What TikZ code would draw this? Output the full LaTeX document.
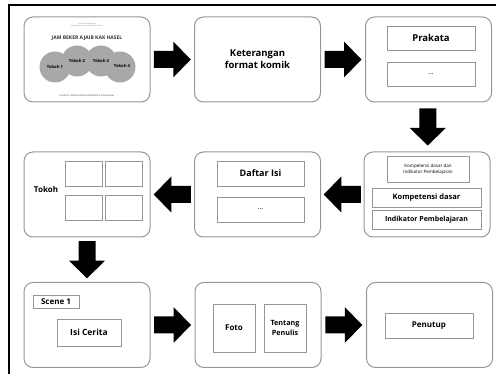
\documentclass[tikz,border=0pt]{standalone}
\usepackage{fontspec}
\setmainfont{Open Sans}
\usetikzlibrary{calc}
\definecolor{boxgray}{RGB}{150,150,150}
\definecolor{tokohgray}{RGB}{168,168,168}
\tikzset{
  pagebox/.style={draw=boxgray, line width=1pt, rounded corners=9pt,
    minimum width=126pt, minimum height=85pt, inner sep=0pt, align=center},
  innerbox/.style={draw=boxgray, line width=0.8pt, inner sep=0pt, align=center},
  tokohcircle/.style={circle, fill=tokohgray, minimum size=31pt, inner sep=0pt},
  blockarrow/.pic={
    \fill[black] (-18.5,-8.5) -- (1,-8.5) -- (1,-18) -- (18.5,0)
      -- (1,18) -- (1,8.5) -- (-18.5,8.5) -- cycle;
  }
}

\begin{document}
\begin{tikzpicture}[x=1pt, y=-1pt, font=\bfseries]
  \useasboundingbox (0,0) rectangle (496,374);

  % Outer frame
  \draw[line width=1.3pt] (9,374) -- (9,5) -- (496,5);

  % === ROW 1 ===
  % Cover
  \node[pagebox] (cover) at (87,59.5) {};
  \node[tokohcircle] (t1) at (55,67) {};
  \node[tokohcircle] (t2) at (77,61) {};
  \node[tokohcircle] (t3) at (101,61) {};
  \node[tokohcircle] (t4) at (120,67) {};
  \node[font=\fontsize{4.2}{5}\bfseries] at (t1) {Tokoh 1};
  \node[font=\fontsize{4.2}{5}\bfseries] at (t2) {Tokoh 2};
  \node[font=\fontsize{4.2}{5}\bfseries] at (t3) {Tokoh 3};
  \node[font=\fontsize{4.2}{5}\bfseries] at (122,66) {Tokoh 4};
  \node[font=\fontsize{1.8}{2.2}\selectfont, text=gray, align=center] (sub) at (87,25)
    {Komik Pembelajaran\\Matematika Kelas Lima Sekolah Dasar};
  \node[font=\fontsize{5}{6}\bfseries, text=black!80] (title) at (87,38)
    {JAM BEKER AJAIB KAK HASEL};
  \node[font=\fontsize{2.2}{3}\bfseries, text=gray] (foot) at (87,96)
    {KOLEKSI : KOMIK DIGITAL INTERAKTIF POLA HASEL};

  % Keterangan
  \node[pagebox, font=\fontsize{9.5}{12}\bfseries] (ket) at (257.5,59.5)
    {Keterangan\\format komik};

  % Prakata
  \node[pagebox] (prak) at (428.5,59.5) {};
  \node[innerbox, minimum width=88pt, minimum height=24pt,
    font=\fontsize{9.5}{11}\bfseries] (prakata) at (431,38) {Prakata};
  \node[innerbox, minimum width=88pt, minimum height=24pt,
    font=\fontsize{7}{8}\selectfont] (prakdots) at (431,74) {...};

  \pic at ($(cover.east)!0.5!(ket.west)$) {blockarrow};
  \pic at ($(ket.east)!0.5!(prak.west)$) {blockarrow};

  % === ROW 2 ===
  % Kompetensi
  \node[pagebox] (komp) at (427,194.5) {};
  \node[innerbox, minimum width=82pt, minimum height=26pt,
    font=\fontsize{4.5}{6}\selectfont] (kdid) at (428,169)
    {Kompetensi dasar dan\\Indikator Pembelajaran};
  \node[innerbox, minimum width=109pt, minimum height=19pt,
    font=\fontsize{7.5}{9}\bfseries] (kd) at (426.5,197.5) {Kompetensi dasar};
  \node[innerbox, minimum width=109pt, minimum height=19pt,
    font=\fontsize{7}{9}\bfseries] (ind) at (426.5,219.5) {Indikator Pembelajaran};

  % Daftar Isi
  \node[pagebox] (daftar) at (257.5,194.5) {};
  \node[innerbox, minimum width=87pt, minimum height=25pt,
    font=\fontsize{9}{11}\bfseries] (daftarisi) at (260.5,173.5) {Daftar Isi};
  \node[innerbox, minimum width=87pt, minimum height=25pt,
    font=\fontsize{7}{8}\selectfont] (daftardots) at (260.5,209.5) {...};

  % Tokoh
  \node[pagebox] (tokoh) at (87,194.5) {};
  \node[font=\fontsize{8}{10}\bfseries] (tokohlbl) at (46,190) {Tokoh};
  \foreach \cx/\cy [count=\i] in {83.5/173.5, 124/173.5, 83.5/207.5, 124/207.5}
    \node[innerbox, minimum width=37pt, minimum height=25pt] (panel\i) at (\cx,\cy) {};

  \pic[rotate=180] at ($(daftar.west)!0.5!(tokoh.east)$) {blockarrow};
  \pic[rotate=180] at ($(komp.west)!0.5!(daftar.east)$) {blockarrow};
  \pic[rotate=-90] at ($(prak.south)!0.5!(komp.north)$) {blockarrow};

  % === ROW 3 ===
  % Scene
  \node[pagebox] (scene) at (87,325) {};
  \node[innerbox, minimum width=46pt, minimum height=13pt,
    font=\fontsize{8}{9}\bfseries] (scene1) at (56,301.5) {Scene 1};
  \node[innerbox, minimum width=64pt, minimum height=27pt,
    font=\fontsize{8.5}{10}\bfseries] (isi) at (89,332.5) {Isi Cerita};

  % Penulis
  \node[pagebox] (penulis) at (258,325) {};
  \node[innerbox, minimum width=42pt, minimum height=48pt,
    font=\fontsize{8}{10}\bfseries] (foto) at (234,328) {Foto};
  \node[innerbox, minimum width=42pt, minimum height=48pt,
    font=\fontsize{7.2}{10}\bfseries] (tentang) at (285,328) {Tentang\\Penulis};

  % Penutup
  \node[pagebox] (tutup) at (429.5,325) {};
  \node[innerbox, minimum width=88pt, minimum height=25pt,
    font=\fontsize{8}{10}\bfseries] (penutup) at (429,325.5) {Penutup};

  \pic[rotate=-90] at ($(tokoh.south)!0.5!(scene.north)$) {blockarrow};
  \pic at ($(scene.east)!0.5!(penulis.west)$) {blockarrow};
  \pic at ($(penulis.east)!0.5!(tutup.west)$) {blockarrow};

\end{tikzpicture}
\end{document}
